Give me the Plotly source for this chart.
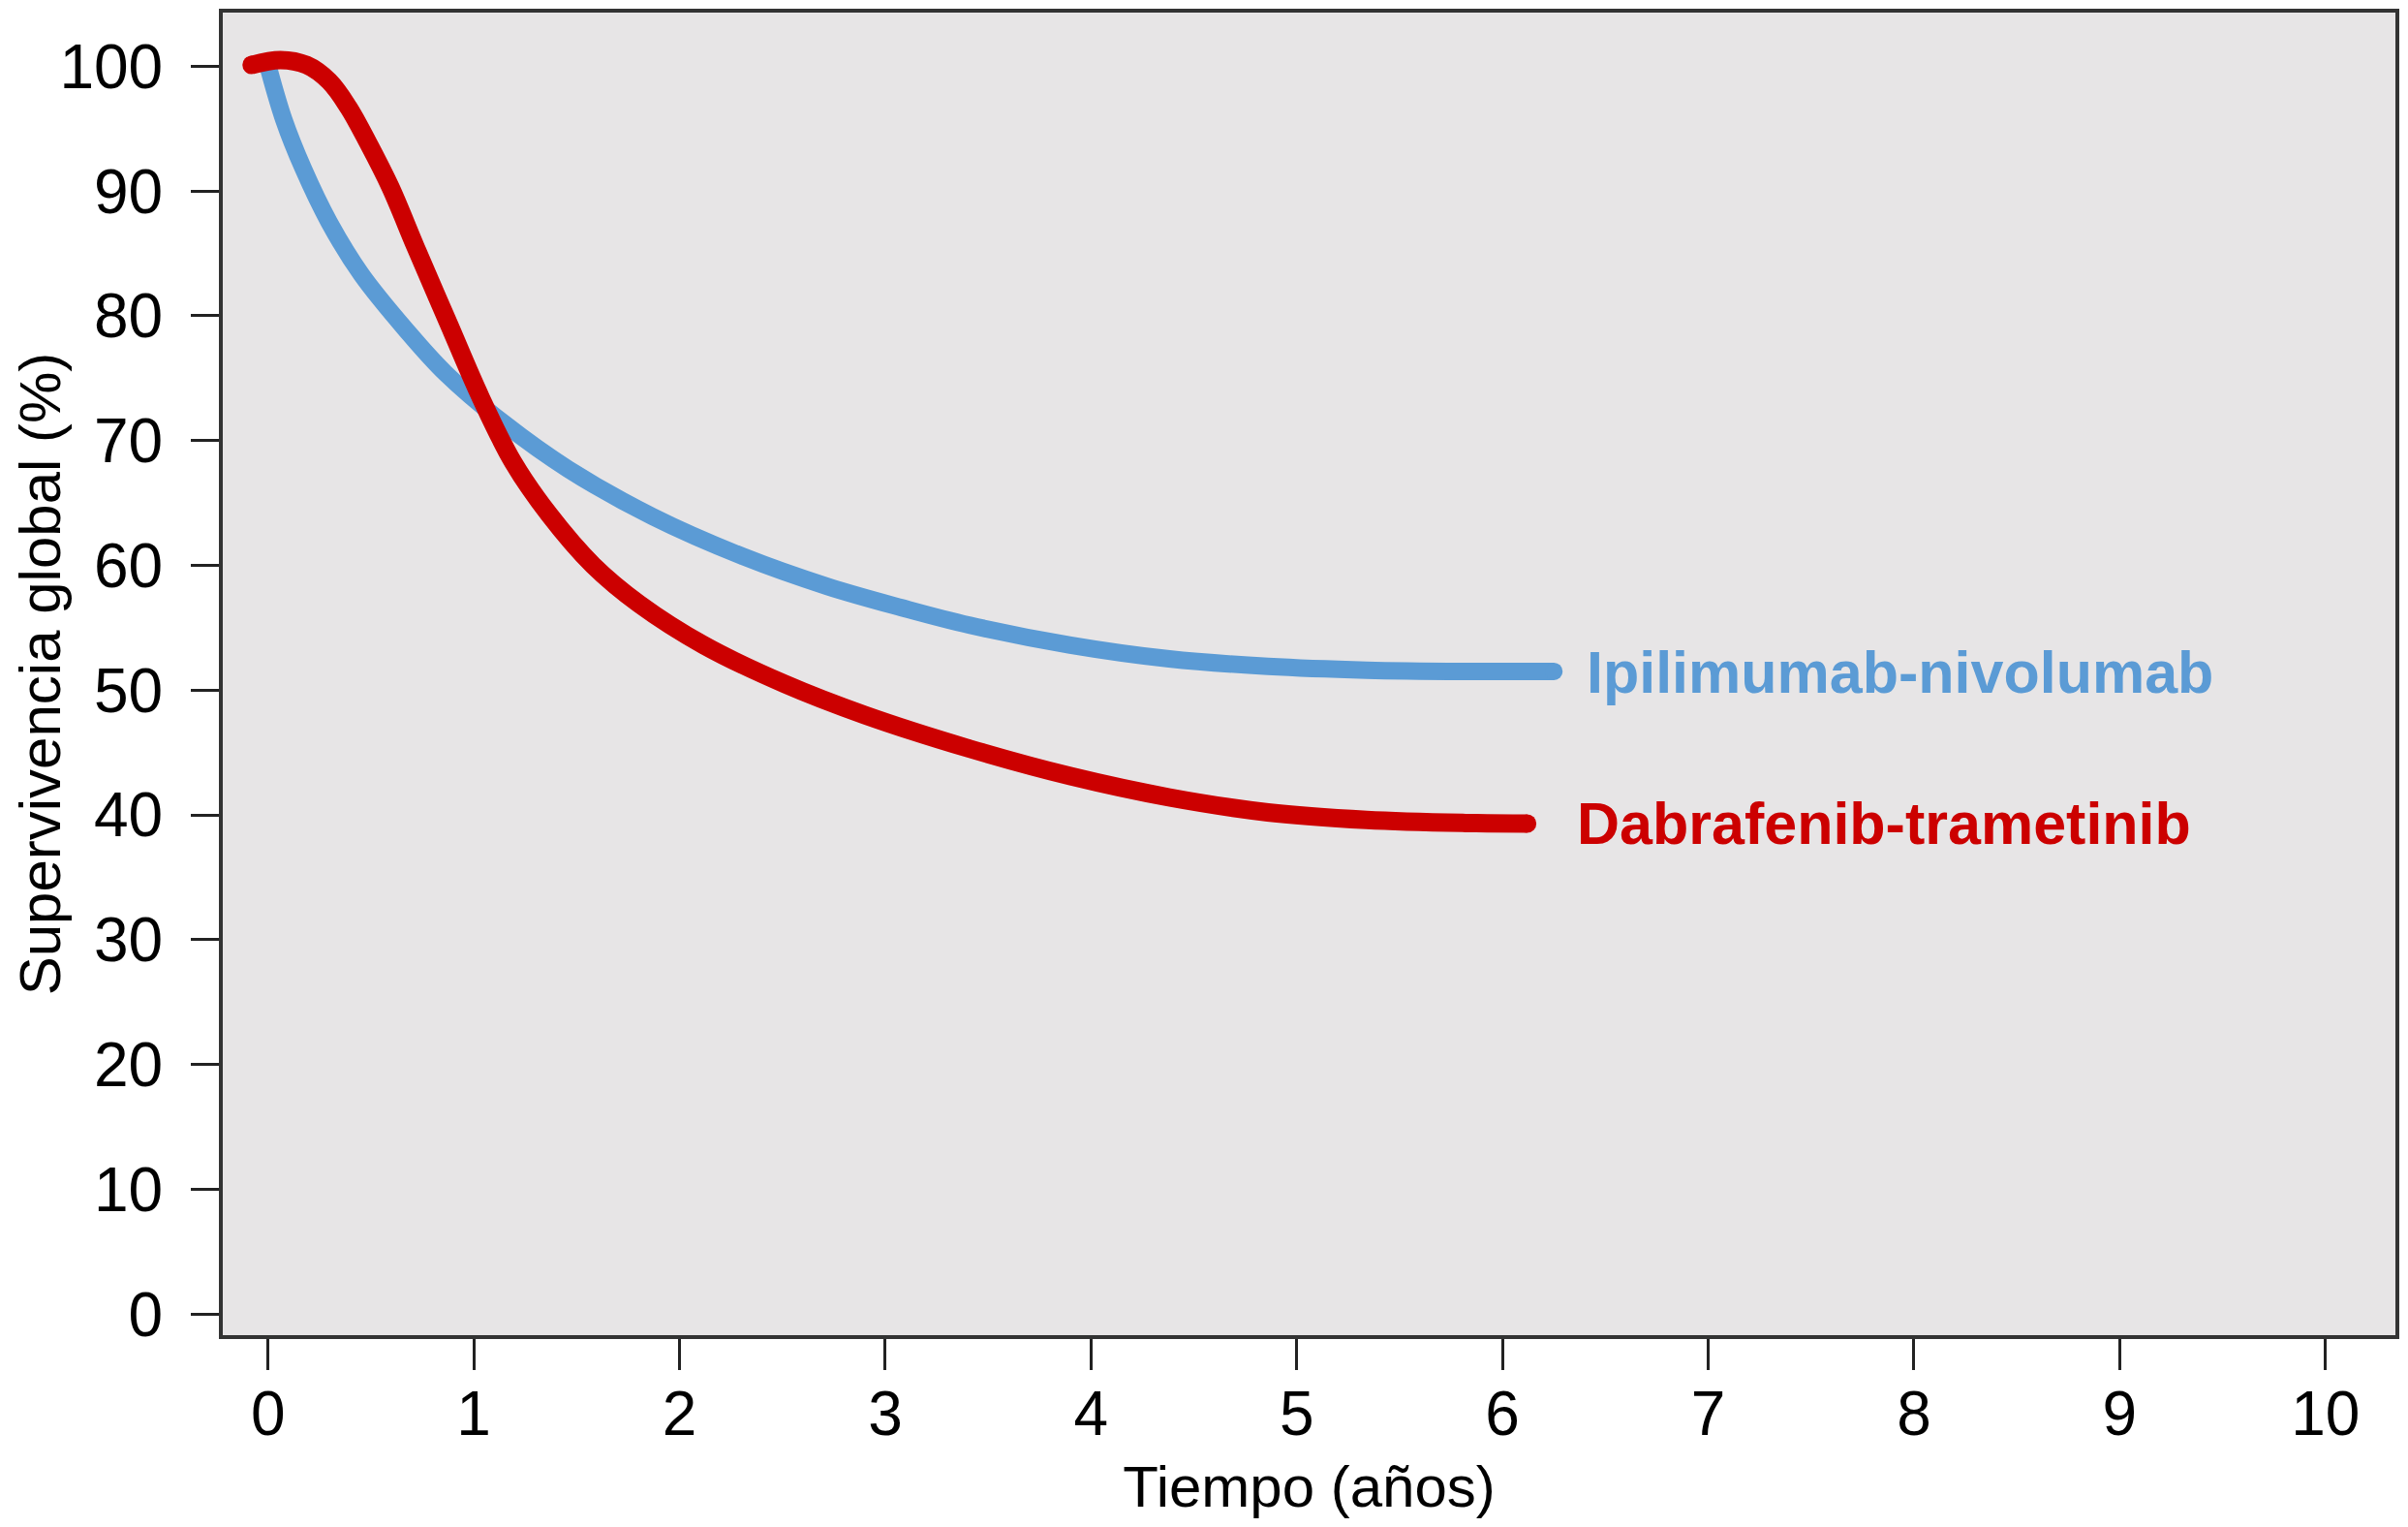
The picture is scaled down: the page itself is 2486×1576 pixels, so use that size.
import plotly.graph_objects as go

# Curvas de supervivencia global
anios_ipi = [0, 0.077, 0.171, 0.297, 0.454, 0.674, 0.862, 1.145, 1.46, 1.87, 2.31, 2.72,
             3.08, 3.41, 3.90, 4.38, 4.86, 5.34, 5.82, 6.25]
sg_ipi = [100, 95.7, 91.8, 87.5, 83.3, 78.8, 75.4, 71.4, 67.7, 63.9, 60.7, 58.3,
          56.6, 55.2, 53.6, 52.5, 51.9, 51.6, 51.5, 51.5]

anios_dab = [-0.08, 0.061, 0.187, 0.297, 0.391, 0.485, 0.595, 0.72, 0.877, 1.035, 1.19,
             1.365, 1.58, 1.804, 2.118, 2.51, 2.90, 3.41, 3.90, 4.38, 4.86, 5.34, 5.82, 6.12]
sg_dab = [100.1, 100.5, 100.1, 98.8, 96.7, 93.9, 90.3, 85.4, 79.4, 73.4, 68.3,
          64.1, 60.0, 56.9, 53.6, 50.5, 48.0, 45.3, 43.1, 41.4, 40.2, 39.6, 39.35, 39.3]

nombre_ipi = "Ipilimumab-nivolumab"
nombre_dab = "Dabrafenib-trametinib"

x_ticks = list(range(0, 11))
y_ticks = list(range(0, 101, 10))

AZUL = "#5B9BD5"
ROJO = "#CC0000"
FUENTE = "Liberation Sans, Arial, sans-serif"

fig = go.Figure()

for xs, ys, color, ancho in [(anios_ipi, sg_ipi, AZUL, 18), (anios_dab, sg_dab, ROJO, 19)]:
    fig.add_trace(go.Scatter(x=xs, y=ys, mode="lines", line=dict(color=color, width=ancho, shape="spline", smoothing=1.0),
                             showlegend=False, hoverinfo="skip"))
    # extremos redondeados
    fig.add_trace(go.Scatter(x=[xs[0], xs[-1]], y=[ys[0], ys[-1]], mode="markers",
                             marker=dict(color=color, size=ancho, line=dict(width=0)),
                             showlegend=False, hoverinfo="skip"))

fig.add_annotation(x=anios_ipi[-1], y=sg_ipi[-1], text="<b>" + nombre_ipi + "</b>", showarrow=False,
                   xanchor="left", yanchor="middle", xshift=32, yshift=-1,
                   font=dict(family=FUENTE, size=61, color=AZUL))
fig.add_annotation(x=anios_dab[-1], y=sg_dab[-1], text="<b>" + nombre_dab + "</b>", showarrow=False,
                   xanchor="left", yanchor="middle", xshift=49, yshift=0,
                   font=dict(family=FUENTE, size=61, color=ROJO))

fig.update_xaxes(range=[-0.22, 10.34], tickvals=x_ticks, ticks="outside", ticklen=32, tickwidth=2.5,
                 tickcolor="#222", showline=True, linecolor="#333", linewidth=4, mirror=True,
                 showgrid=False, zeroline=False, tickfont=dict(family=FUENTE, size=64, color="black"),
                 ticklabelstandoff=-10,
                 title=dict(text="Tiempo (años)", font=dict(family=FUENTE, size=60, color="black"), standoff=22))
fig.update_yaxes(range=[-1.7, 104.3], tickvals=y_ticks, ticks="outside", ticklen=29, tickwidth=3,
                 tickcolor="#222", showline=True, linecolor="#333", linewidth=4, mirror=True,
                 showgrid=False, zeroline=False, tickfont=dict(family=FUENTE, size=64, color="black"),
                 ticklabelstandoff=16,
                 title=dict(text="Supervivencia global (%)", font=dict(family=FUENTE, size=60, color="black"), standoff=7))

# la página deja 8 px de margen alrededor de la figura
fig.update_layout(width=2470, height=1560, plot_bgcolor="#E7E5E6", paper_bgcolor="white",
                  margin=dict(l=222, r=5, t=5, b=190, autoexpand=False))

fig.write_html("out.html")
